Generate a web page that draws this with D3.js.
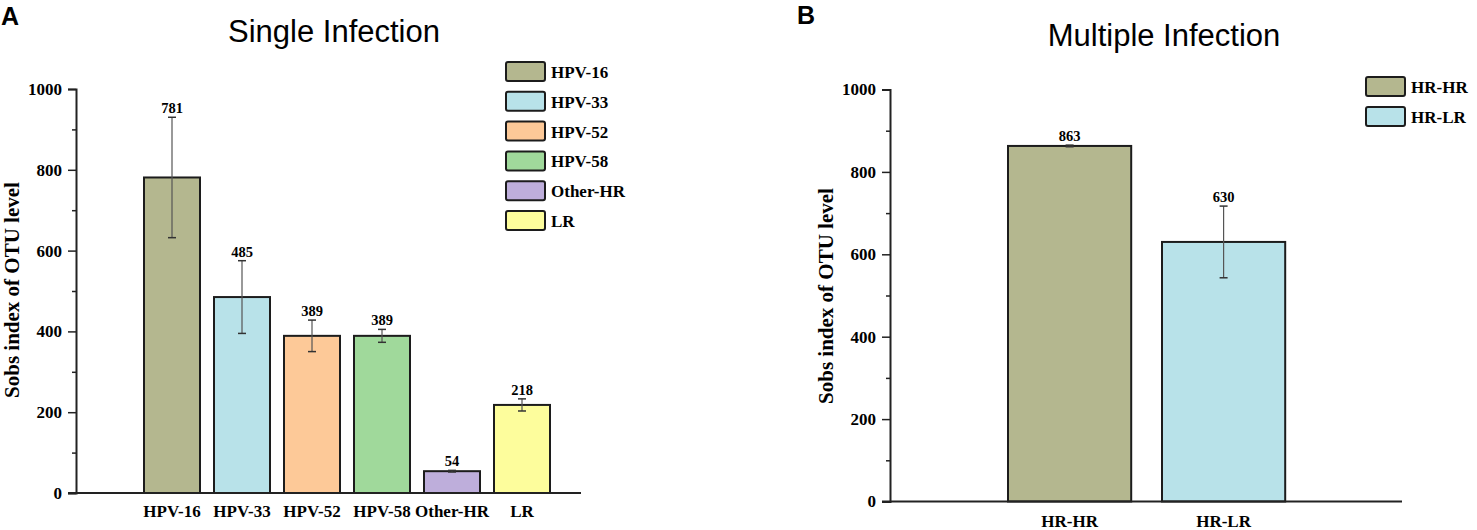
<!DOCTYPE html>
<html lang="en">
<head>
    <meta charset="UTF-8">
    <title>Sobs index of OTU level</title>
    <style>
        body { margin: 0; background: #fff; }
        svg { display: block; }
        .serif { font-family: "Liberation Serif", "Times New Roman", serif; font-weight: bold; }
        .sans { font-family: "Liberation Sans", Arial, sans-serif; }
    </style>
</head>
<body>
    <div id="chart-wrapper"></div>

    <script src="https://d3js.org/d3.v7.min.js"></script>
    <script>
        // panel A: single infection
        const singleCats = ['HPV-16', 'HPV-33', 'HPV-52', 'HPV-58', 'Other-HR', 'LR']
        const singleMeans = [781, 485, 389, 389, 54, 218]
        const singleErr = [149, 90, 39, 16, 2, 15]

        // panel B: multiple infection
        const multiCats = ['HR-HR', 'HR-LR']
        const multiMeans = [863, 630]
        const multiErr = [2, 87]

        const yTicks = [0, 200, 400, 600, 800, 1000]
        const yMinor = [100, 300, 500, 700, 900]

        const palette = ['#b4b78f', '#b8e2e9', '#fdc998', '#a0d99b', '#beaedb', '#fdfd9c']

        const width = 1477
        const height = 530

        const svg = d3.select('#chart-wrapper')
            .append('svg')
            .attr('width', width)
            .attr('height', height)

        function drawPanel(opt) {
            const g = svg.append('g')
            const y = d3.scaleLinear().domain([0, 1000]).range([opt.y0, opt.y1])
            const x = d3.scaleBand()
                .domain(opt.cats)
                .range(opt.xRange)
                .paddingInner(0.2)
                .paddingOuter(0.1)

            // panel letter + title
            g.append('text')
                .attr('class', 'sans')
                .attr('x', opt.letterX)
                .attr('y', opt.letterY)
                .attr('font-size', 25)
                .attr('font-weight', 'bold')
                .text(opt.letter)
            g.append('text')
                .attr('class', 'sans')
                .attr('x', opt.titleX)
                .attr('y', opt.titleY)
                .attr('text-anchor', 'middle')
                .attr('font-size', 31)
                .text(opt.title)

            // bars
            g.selectAll('.bar')
                .data(opt.cats)
                .enter()
                .append('rect')
                .attr('class', 'bar')
                .attr('x', d => x(d))
                .attr('y', (d, i) => y(opt.means[i]))
                .attr('width', x.bandwidth())
                .attr('height', (d, i) => y(0) - y(opt.means[i]))
                .attr('fill', (d, i) => palette[i])
                .attr('stroke', '#1c1c1c')
                .attr('stroke-width', 2)

            // error bars
            const eb = g.selectAll('.err')
                .data(opt.cats)
                .enter()
                .append('g')
                .attr('class', 'err')
                .attr('transform', d => `translate(${x(d) + x.bandwidth() / 2},0)`)
            eb.append('line')
                .attr('y1', (d, i) => y(opt.means[i] + opt.err[i]))
                .attr('y2', (d, i) => y(opt.means[i] - opt.err[i]))
                .attr('stroke', '#555')
                .attr('stroke-width', 1.2)
            eb.selectAll('.cap')
                .data((d, i) => [opt.means[i] + opt.err[i], opt.means[i] - opt.err[i]])
                .enter()
                .append('line')
                .attr('x1', -4)
                .attr('x2', 4)
                .attr('y1', v => y(v))
                .attr('y2', v => y(v))
                .attr('stroke', '#333')
                .attr('stroke-width', 1.5)
            eb.append('text')
                .attr('class', 'serif')
                .attr('y', (d, i) => y(opt.means[i] + opt.err[i]) - 4)
                .attr('text-anchor', 'middle')
                .attr('font-size', 14.5)
                .text((d, i) => opt.means[i])

            // y axis
            const yAxis = g.append('g')
                .attr('transform', `translate(${opt.axisX},0)`)
                .call(d3.axisLeft(y).tickValues(yTicks).tickFormat(d3.format('d')).tickSize(8).tickPadding(6))
            yAxis.select('.domain').attr('stroke', '#222').attr('stroke-width', 2)
            yAxis.selectAll('.tick line').attr('stroke', '#222').attr('stroke-width', 1.5)
            yAxis.selectAll('.tick text')
                .attr('class', 'serif')
                .attr('font-size', 17)
                .attr('fill', '#000')
            const yMin = g.append('g')
                .attr('transform', `translate(${opt.axisX},0)`)
                .call(d3.axisLeft(y).tickValues(yMinor).tickSize(4).tickFormat(''))
            yMin.select('.domain').remove()
            yMin.selectAll('.tick line').attr('stroke', '#222').attr('stroke-width', 1.5)

            // x axis
            g.append('line')
                .attr('x1', opt.axisX - 8)
                .attr('x2', opt.xEnd)
                .attr('y1', y(0))
                .attr('y2', y(0))
                .attr('stroke', '#222')
                .attr('stroke-width', 2)
            const xAxis = g.append('g')
                .attr('transform', `translate(0,${y(0)})`)
                .call(d3.axisBottom(x).tickSize(0).tickPadding(opt.xPad))
            xAxis.select('.domain').remove()
            xAxis.selectAll('.tick text')
                .attr('class', 'serif')
                .attr('font-size', 17)
                .attr('fill', '#000')

            // y title
            g.append('text')
                .attr('class', 'serif')
                .attr('transform', `translate(${opt.yTitleX},${opt.yTitleY}) rotate(-90)`)
                .attr('text-anchor', 'middle')
                .attr('dy', '0.35em')
                .attr('font-size', 21)
                .text('Sobs index of OTU level')

            // legend
            const lg = g.selectAll('.legend')
                .data(opt.cats)
                .enter()
                .append('g')
                .attr('class', 'legend')
                .attr('transform', (d, i) => `translate(${opt.legX},${opt.legY + i * opt.legStep})`)
            lg.append('rect')
                .attr('width', 39)
                .attr('height', 19)
                .attr('rx', 2)
                .attr('fill', (d, i) => palette[i])
                .attr('stroke', '#1c1c1c')
                .attr('stroke-width', 2)
            lg.append('text')
                .attr('class', 'serif')
                .attr('x', 45)
                .attr('y', 16)
                .attr('font-size', 17)
                .text(d => d)
        }

        drawPanel({
            cats: singleCats, means: singleMeans, err: singleErr,
            y0: 493, y1: 89, xRange: [137, 557], axisX: 76, xEnd: 581, xPad: 12,
            letter: 'A', letterX: 1, letterY: 25,
            title: 'Single Infection', titleX: 334, titleY: 42,
            yTitleX: 12, yTitleY: 290,
            legX: 506, legY: 62, legStep: 29.8
        })

        drawPanel({
            cats: multiCats, means: multiMeans, err: multiErr,
            y0: 501.5, y1: 89.5, xRange: [992.6, 1300.6], axisX: 890, xEnd: 1402, xPad: 13,
            letter: 'B', letterX: 797, letterY: 24,
            title: 'Multiple Infection', titleX: 1164, titleY: 46,
            yTitleX: 826, yTitleY: 296,
            legX: 1366, legY: 77, legStep: 30
        })
    </script>
</body>
</html>
